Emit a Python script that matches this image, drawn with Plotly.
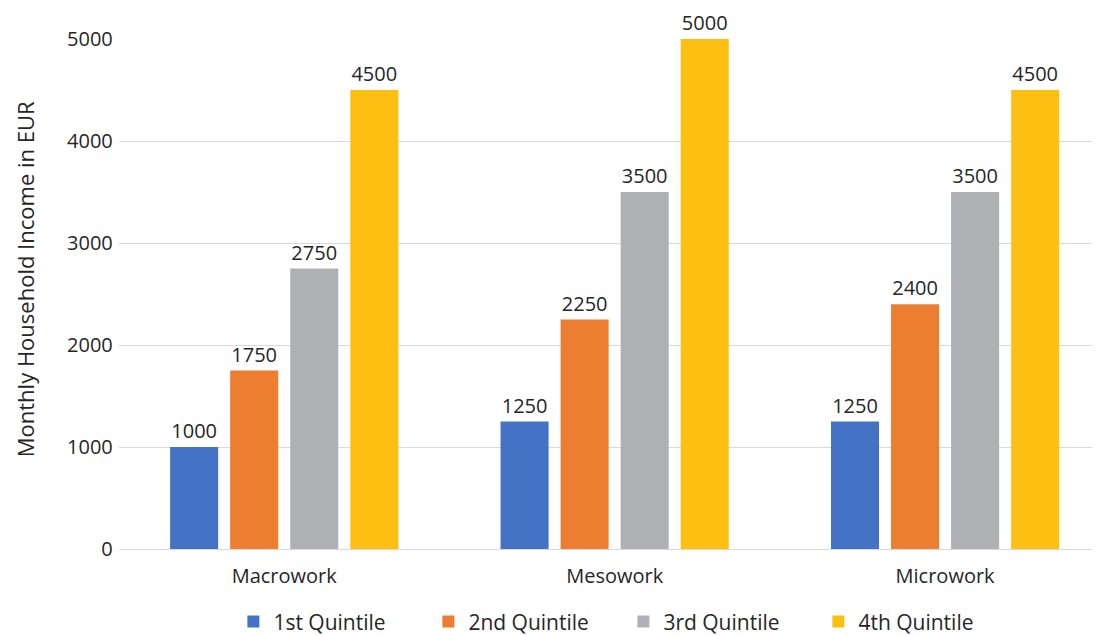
import plotly.graph_objects as go

categories = ["Macrowork", "Mesowork", "Microwork"]
series_names = ["1st Quintile", "2nd Quintile", "3rd Quintile", "4th Quintile"]
q1 = [1000, 1250, 1250]
q2 = [1750, 2250, 2400]
q3 = [2750, 3500, 3500]
q4 = [4500, 5000, 4500]
colors = ["#4472C4", "#ED7D31", "#AFB0B3", "#FCBF12"]
y_title = "Monthly Household Income in EUR"

TXT = "#262626"
fig = go.Figure()
for name, vals, col in zip(series_names, [q1, q2, q3, q4], colors):
    fig.add_trace(go.Bar(
        name=name, x=categories, y=vals, marker=dict(color=col, line=dict(width=0)),
        text=[str(v) for v in vals], textposition="outside", cliponaxis=False,
        textfont=dict(size=20, color=TXT, family="Open Sans"),
    ))

fig.update_layout(
    width=1100, height=635,
    barmode="group", bargap=0.273, bargroupgap=0.2,
    paper_bgcolor="white", plot_bgcolor="white",
    margin=dict(l=111, r=0, t=31, b=94),
    font=dict(family="Open Sans", color=TXT),
    showlegend=True,
    legend=dict(orientation="h", x=0.51, xanchor="center", y=-0.143, yanchor="middle",
                font=dict(size=21, color=TXT), traceorder="normal",
                itemwidth=30, entrywidthmode="pixels", entrywidth=150),
    uniformtext=dict(mode=False),
    annotations=[dict(text=y_title, textangle=-90, xref="paper", yref="paper",
                      x=-0.095, y=0.529, xanchor="center", yanchor="middle",
                      showarrow=False, font=dict(size=22, color=TXT))],
)
fig.update_xaxes(range=[-0.5, 2.493], showgrid=False, showline=False, ticks="",
                 tickfont=dict(size=20, color=TXT), ticklabelstandoff=13)
fig.update_yaxes(range=[0, 5000], dtick=1000, showgrid=True, gridcolor="#D9D9D9", gridwidth=1,
                 zeroline=True, zerolinecolor="#D9D9D9", zerolinewidth=1,
                 tickfont=dict(size=20, color=TXT), ticksuffix=" ")

fig.write_html("out.html")
